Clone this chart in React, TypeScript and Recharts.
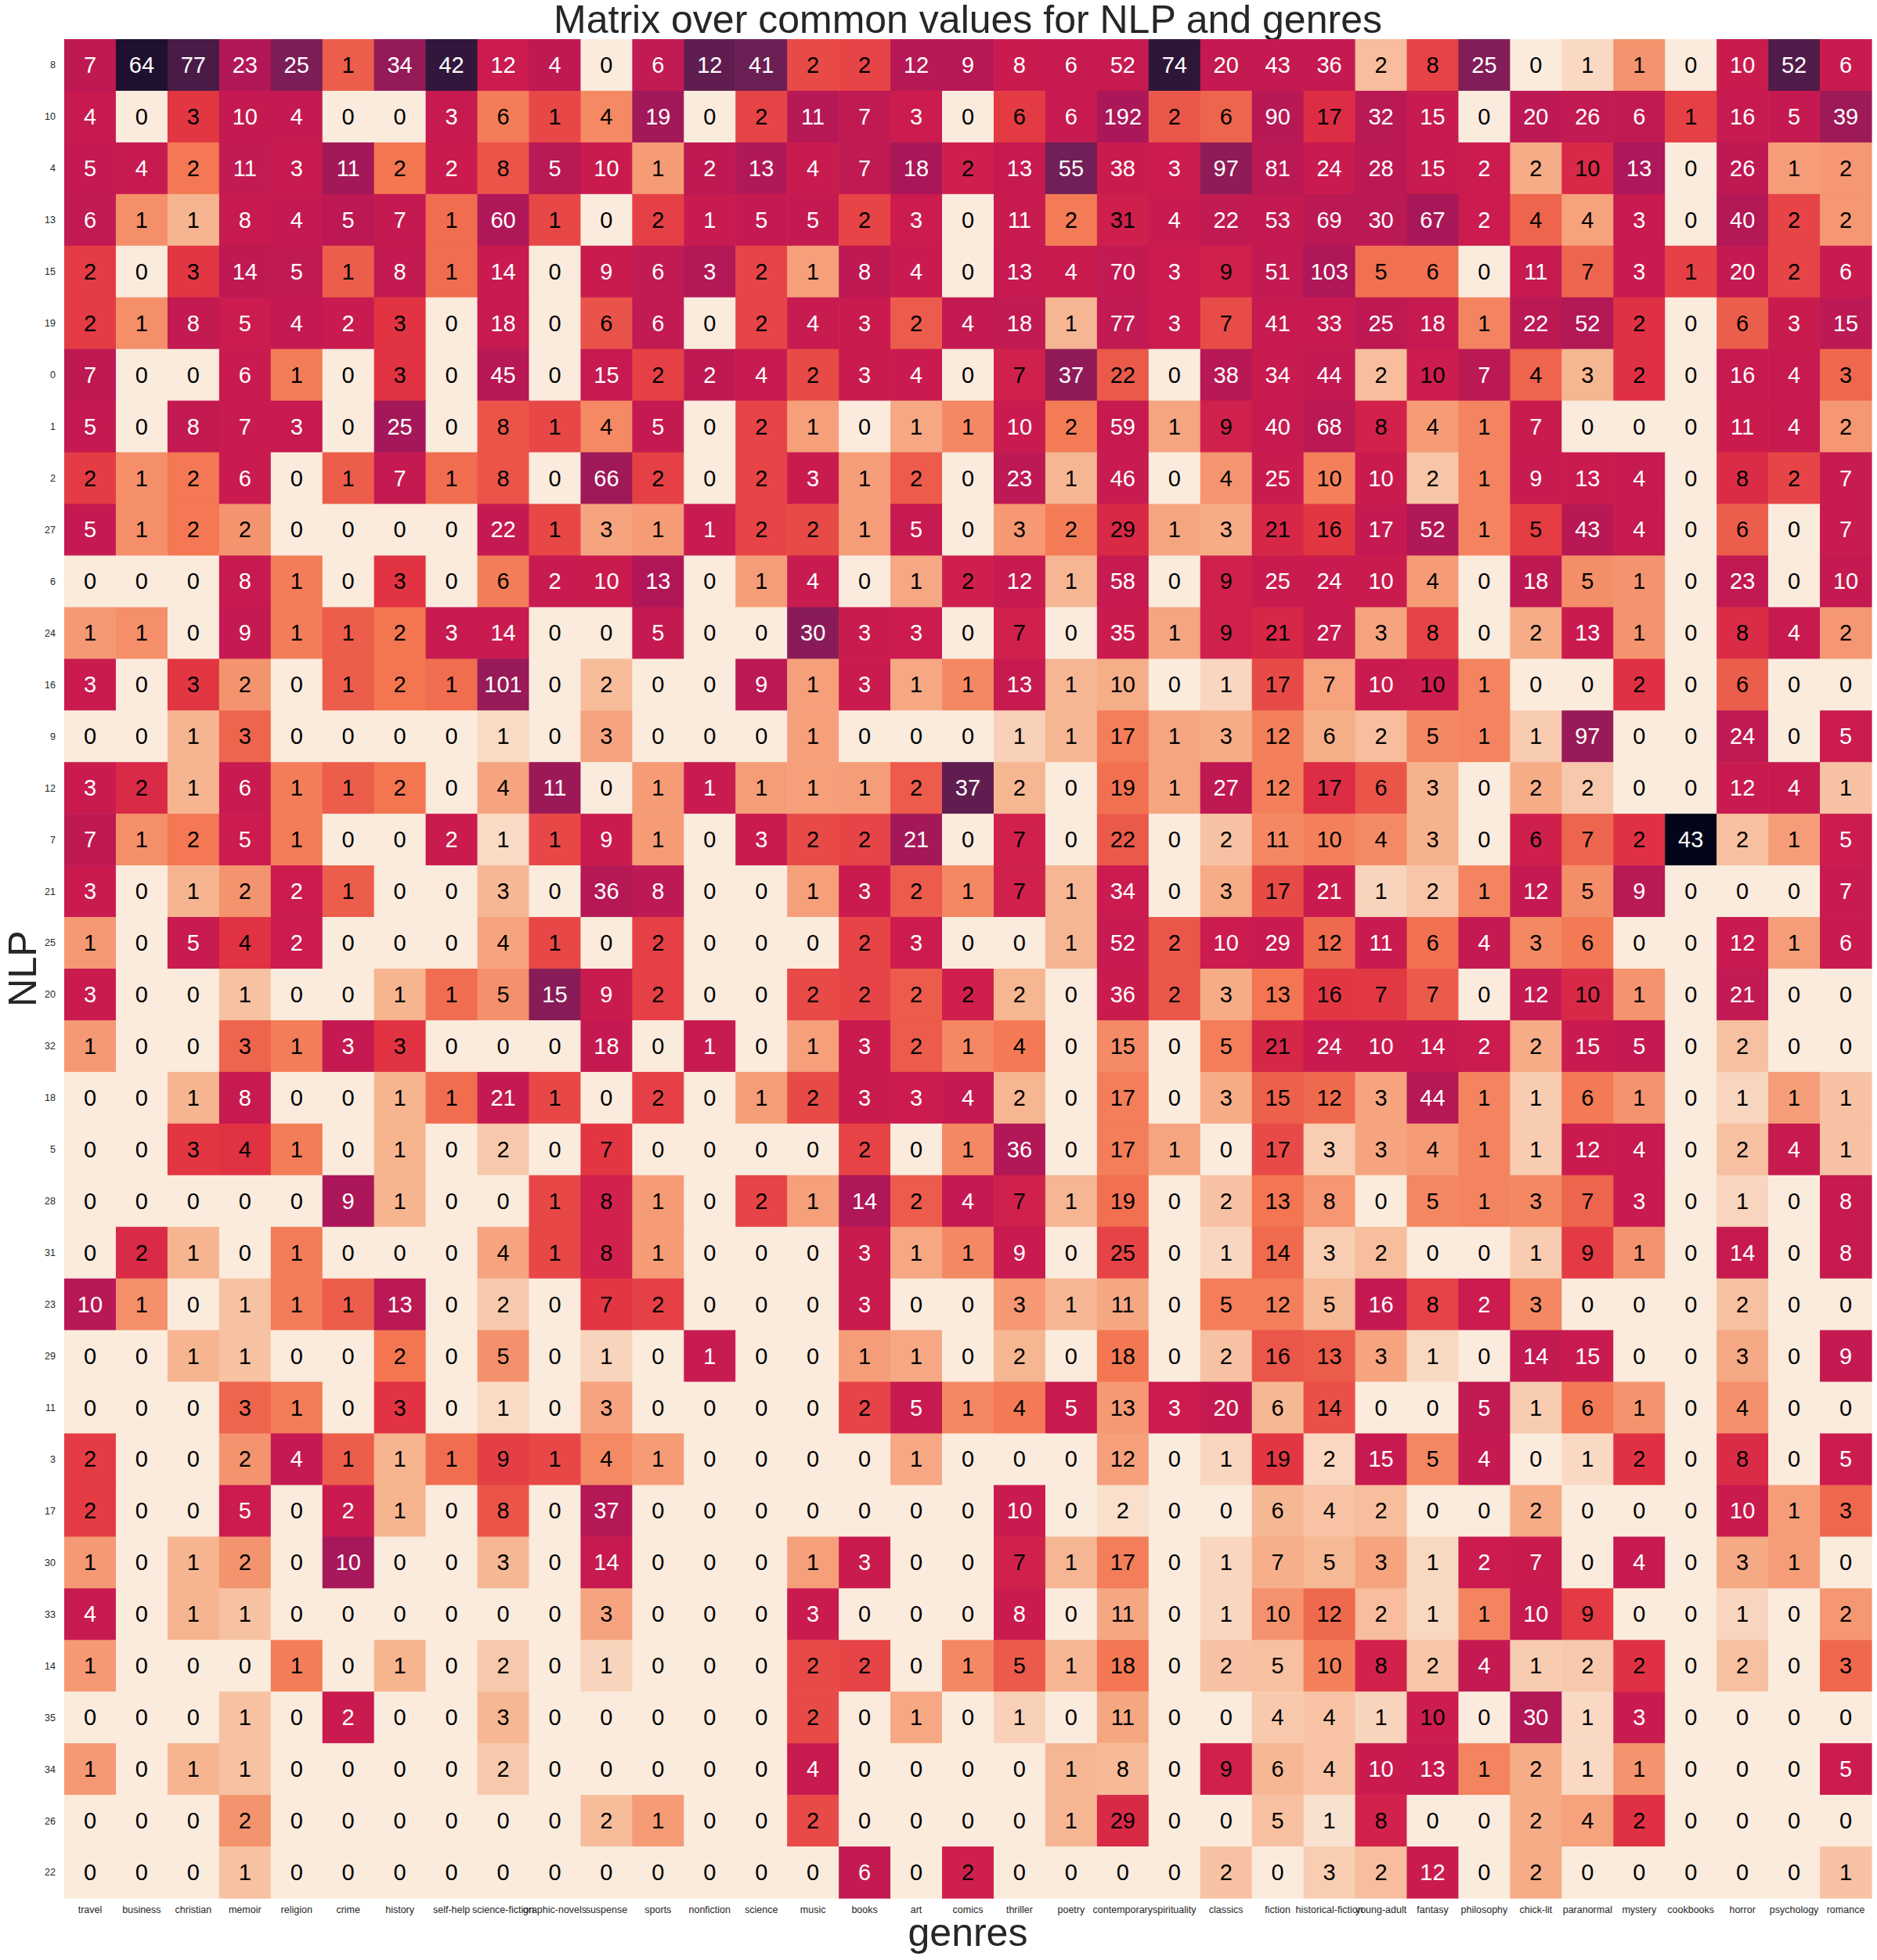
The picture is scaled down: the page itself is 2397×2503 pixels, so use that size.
import React from "react";
import { ScatterChart, Scatter, XAxis, YAxis, Label } from "recharts";

// ---- data ----
const genres = [
  "travel", "business", "christian", "memoir", "religion", "crime", "history",
  "self-help", "science-fiction", "graphic-novels", "suspense", "sports",
  "nonfiction", "science", "music", "books", "art", "comics", "thriller",
  "poetry", "contemporary", "spirituality", "classics", "fiction",
  "historical-fiction", "young-adult", "fantasy", "philosophy", "chick-lit",
  "paranormal", "mystery", "cookbooks", "horror", "psychology", "romance",
];

const nlpLabels = [
  "8", "10", "4", "13", "15", "19", "0", "1", "2", "27", "6", "24", "16", "9",
  "12", "7", "21", "25", "20", "32", "18", "5", "28", "31", "23", "29", "11",
  "3", "17", "30", "33", "14", "35", "34", "26", "22",
];

// counts per NLP cluster, in genre order
const nlp8 = [7, 64, 77, 23, 25, 1, 34, 42, 12, 4, 0, 6, 12, 41, 2, 2, 12, 9, 8, 6, 52, 74, 20, 43, 36, 2, 8, 25, 0, 1, 1, 0, 10, 52, 6];
const nlp10 = [4, 0, 3, 10, 4, 0, 0, 3, 6, 1, 4, 19, 0, 2, 11, 7, 3, 0, 6, 6, 192, 2, 6, 90, 17, 32, 15, 0, 20, 26, 6, 1, 16, 5, 39];
const nlp4 = [5, 4, 2, 11, 3, 11, 2, 2, 8, 5, 10, 1, 2, 13, 4, 7, 18, 2, 13, 55, 38, 3, 97, 81, 24, 28, 15, 2, 2, 10, 13, 0, 26, 1, 2];
const nlp13 = [6, 1, 1, 8, 4, 5, 7, 1, 60, 1, 0, 2, 1, 5, 5, 2, 3, 0, 11, 2, 31, 4, 22, 53, 69, 30, 67, 2, 4, 4, 3, 0, 40, 2, 2];
const nlp15 = [2, 0, 3, 14, 5, 1, 8, 1, 14, 0, 9, 6, 3, 2, 1, 8, 4, 0, 13, 4, 70, 3, 9, 51, 103, 5, 6, 0, 11, 7, 3, 1, 20, 2, 6];
const nlp19 = [2, 1, 8, 5, 4, 2, 3, 0, 18, 0, 6, 6, 0, 2, 4, 3, 2, 4, 18, 1, 77, 3, 7, 41, 33, 25, 18, 1, 22, 52, 2, 0, 6, 3, 15];
const nlp0 = [7, 0, 0, 6, 1, 0, 3, 0, 45, 0, 15, 2, 2, 4, 2, 3, 4, 0, 7, 37, 22, 0, 38, 34, 44, 2, 10, 7, 4, 3, 2, 0, 16, 4, 3];
const nlp1 = [5, 0, 8, 7, 3, 0, 25, 0, 8, 1, 4, 5, 0, 2, 1, 0, 1, 1, 10, 2, 59, 1, 9, 40, 68, 8, 4, 1, 7, 0, 0, 0, 11, 4, 2];
const nlp2 = [2, 1, 2, 6, 0, 1, 7, 1, 8, 0, 66, 2, 0, 2, 3, 1, 2, 0, 23, 1, 46, 0, 4, 25, 10, 10, 2, 1, 9, 13, 4, 0, 8, 2, 7];
const nlp27 = [5, 1, 2, 2, 0, 0, 0, 0, 22, 1, 3, 1, 1, 2, 2, 1, 5, 0, 3, 2, 29, 1, 3, 21, 16, 17, 52, 1, 5, 43, 4, 0, 6, 0, 7];
const nlp6 = [0, 0, 0, 8, 1, 0, 3, 0, 6, 2, 10, 13, 0, 1, 4, 0, 1, 2, 12, 1, 58, 0, 9, 25, 24, 10, 4, 0, 18, 5, 1, 0, 23, 0, 10];
const nlp24 = [1, 1, 0, 9, 1, 1, 2, 3, 14, 0, 0, 5, 0, 0, 30, 3, 3, 0, 7, 0, 35, 1, 9, 21, 27, 3, 8, 0, 2, 13, 1, 0, 8, 4, 2];
const nlp16 = [3, 0, 3, 2, 0, 1, 2, 1, 101, 0, 2, 0, 0, 9, 1, 3, 1, 1, 13, 1, 10, 0, 1, 17, 7, 10, 10, 1, 0, 0, 2, 0, 6, 0, 0];
const nlp9 = [0, 0, 1, 3, 0, 0, 0, 0, 1, 0, 3, 0, 0, 0, 1, 0, 0, 0, 1, 1, 17, 1, 3, 12, 6, 2, 5, 1, 1, 97, 0, 0, 24, 0, 5];
const nlp12 = [3, 2, 1, 6, 1, 1, 2, 0, 4, 11, 0, 1, 1, 1, 1, 1, 2, 37, 2, 0, 19, 1, 27, 12, 17, 6, 3, 0, 2, 2, 0, 0, 12, 4, 1];
const nlp7 = [7, 1, 2, 5, 1, 0, 0, 2, 1, 1, 9, 1, 0, 3, 2, 2, 21, 0, 7, 0, 22, 0, 2, 11, 10, 4, 3, 0, 6, 7, 2, 43, 2, 1, 5];
const nlp21 = [3, 0, 1, 2, 2, 1, 0, 0, 3, 0, 36, 8, 0, 0, 1, 3, 2, 1, 7, 1, 34, 0, 3, 17, 21, 1, 2, 1, 12, 5, 9, 0, 0, 0, 7];
const nlp25 = [1, 0, 5, 4, 2, 0, 0, 0, 4, 1, 0, 2, 0, 0, 0, 2, 3, 0, 0, 1, 52, 2, 10, 29, 12, 11, 6, 4, 3, 6, 0, 0, 12, 1, 6];
const nlp20 = [3, 0, 0, 1, 0, 0, 1, 1, 5, 15, 9, 2, 0, 0, 2, 2, 2, 2, 2, 0, 36, 2, 3, 13, 16, 7, 7, 0, 12, 10, 1, 0, 21, 0, 0];
const nlp32 = [1, 0, 0, 3, 1, 3, 3, 0, 0, 0, 18, 0, 1, 0, 1, 3, 2, 1, 4, 0, 15, 0, 5, 21, 24, 10, 14, 2, 2, 15, 5, 0, 2, 0, 0];
const nlp18 = [0, 0, 1, 8, 0, 0, 1, 1, 21, 1, 0, 2, 0, 1, 2, 3, 3, 4, 2, 0, 17, 0, 3, 15, 12, 3, 44, 1, 1, 6, 1, 0, 1, 1, 1];
const nlp5 = [0, 0, 3, 4, 1, 0, 1, 0, 2, 0, 7, 0, 0, 0, 0, 2, 0, 1, 36, 0, 17, 1, 0, 17, 3, 3, 4, 1, 1, 12, 4, 0, 2, 4, 1];
const nlp28 = [0, 0, 0, 0, 0, 9, 1, 0, 0, 1, 8, 1, 0, 2, 1, 14, 2, 4, 7, 1, 19, 0, 2, 13, 8, 0, 5, 1, 3, 7, 3, 0, 1, 0, 8];
const nlp31 = [0, 2, 1, 0, 1, 0, 0, 0, 4, 1, 8, 1, 0, 0, 0, 3, 1, 1, 9, 0, 25, 0, 1, 14, 3, 2, 0, 0, 1, 9, 1, 0, 14, 0, 8];
const nlp23 = [10, 1, 0, 1, 1, 1, 13, 0, 2, 0, 7, 2, 0, 0, 0, 3, 0, 0, 3, 1, 11, 0, 5, 12, 5, 16, 8, 2, 3, 0, 0, 0, 2, 0, 0];
const nlp29 = [0, 0, 1, 1, 0, 0, 2, 0, 5, 0, 1, 0, 1, 0, 0, 1, 1, 0, 2, 0, 18, 0, 2, 16, 13, 3, 1, 0, 14, 15, 0, 0, 3, 0, 9];
const nlp11 = [0, 0, 0, 3, 1, 0, 3, 0, 1, 0, 3, 0, 0, 0, 0, 2, 5, 1, 4, 5, 13, 3, 20, 6, 14, 0, 0, 5, 1, 6, 1, 0, 4, 0, 0];
const nlp3 = [2, 0, 0, 2, 4, 1, 1, 1, 9, 1, 4, 1, 0, 0, 0, 0, 1, 0, 0, 0, 12, 0, 1, 19, 2, 15, 5, 4, 0, 1, 2, 0, 8, 0, 5];
const nlp17 = [2, 0, 0, 5, 0, 2, 1, 0, 8, 0, 37, 0, 0, 0, 0, 0, 0, 0, 10, 0, 2, 0, 0, 6, 4, 2, 0, 0, 2, 0, 0, 0, 10, 1, 3];
const nlp30 = [1, 0, 1, 2, 0, 10, 0, 0, 3, 0, 14, 0, 0, 0, 1, 3, 0, 0, 7, 1, 17, 0, 1, 7, 5, 3, 1, 2, 7, 0, 4, 0, 3, 1, 0];
const nlp33 = [4, 0, 1, 1, 0, 0, 0, 0, 0, 0, 3, 0, 0, 0, 3, 0, 0, 0, 8, 0, 11, 0, 1, 10, 12, 2, 1, 1, 10, 9, 0, 0, 1, 0, 2];
const nlp14 = [1, 0, 0, 0, 1, 0, 1, 0, 2, 0, 1, 0, 0, 0, 2, 2, 0, 1, 5, 1, 18, 0, 2, 5, 10, 8, 2, 4, 1, 2, 2, 0, 2, 0, 3];
const nlp35 = [0, 0, 0, 1, 0, 2, 0, 0, 3, 0, 0, 0, 0, 0, 2, 0, 1, 0, 1, 0, 11, 0, 0, 4, 4, 1, 10, 0, 30, 1, 3, 0, 0, 0, 0];
const nlp34 = [1, 0, 1, 1, 0, 0, 0, 0, 2, 0, 0, 0, 0, 0, 4, 0, 0, 0, 0, 1, 8, 0, 9, 6, 4, 10, 13, 1, 2, 1, 1, 0, 0, 0, 5];
const nlp26 = [0, 0, 0, 2, 0, 0, 0, 0, 0, 0, 2, 1, 0, 0, 2, 0, 0, 0, 0, 1, 29, 0, 0, 5, 1, 8, 0, 0, 2, 4, 2, 0, 0, 0, 0];
const nlp22 = [0, 0, 0, 1, 0, 0, 0, 0, 0, 0, 0, 0, 0, 0, 0, 6, 0, 2, 0, 0, 0, 0, 2, 0, 3, 2, 12, 0, 2, 0, 0, 0, 0, 0, 1];

const counts = [
  nlp8, nlp10, nlp4, nlp13, nlp15, nlp19, nlp0, nlp1, nlp2, nlp27, nlp6, nlp24,
  nlp16, nlp9, nlp12, nlp7, nlp21, nlp25, nlp20, nlp32, nlp18, nlp5, nlp28,
  nlp31, nlp23, nlp29, nlp11, nlp3, nlp17, nlp30, nlp33, nlp14, nlp35, nlp34,
  nlp26, nlp22,
];

// ---- colour: share of each genre column, two-slope norm centred on the mean, rocket_r ----
const ROCKET: [number, string][] = [
  [0, "#03051A"], [1 / 7, "#35193E"], [2 / 7, "#701F57"], [3 / 7, "#AD1759"],
  [0.5, "#CB1B4F"], [4 / 7, "#E13342"], [5 / 7, "#F37651"], [6 / 7, "#F6B48F"],
  [1, "#FAEBDD"],
];

const hex = (h: string) => [1, 3, 5].map((i) => parseInt(h.slice(i, i + 2), 16));

function rocket(t: number) {
  t = Math.min(Math.max(t, 0), 1);
  let i = 0;
  while (i < ROCKET.length - 2 && t > ROCKET[i + 1][0]) i++;
  const [t0, c0] = ROCKET[i];
  const [t1, c1] = ROCKET[i + 1];
  const f = (t - t0) / (t1 - t0);
  const a = hex(c0), b = hex(c1);
  const rgb = a.map((v, k) => Math.round(v + (b[k] - v) * f));
  return `rgb(${rgb[0]},${rgb[1]},${rgb[2]})`;
}

const colSums = genres.map((_, c) => counts.reduce((s, row) => s + row[c], 0));
const shares = counts.map((row) => row.map((v, c) => (colSums[c] ? v / colSums[c] : 0)));
const allShares = shares.flat();
const vcenter = allShares.reduce((s, v) => s + v, 0) / allShares.length;
const vmax = Math.max(...allShares);

const norm = (p: number) =>
  p <= vcenter ? (0.5 * p) / vcenter : 0.5 + (0.5 * (p - vcenter)) / (vmax - vcenter);

const cells = counts.flatMap((row, r) =>
  row.map((v, c) => {
    const s = norm(shares[r][c]);
    return {
      x: c + 0.5,
      y: r + 0.5,
      count: v,
      fill: rocket(1 - s),
      textColor: s > 0.5 ? "#ffffff" : "#000000",
    };
  })
);

// ---- layout ----
const W = 2397;
const H = 2503;
const PLOT_LEFT = 82;
const PLOT_TOP = 50;
const PLOT_RIGHT = 2390;
const PLOT_BOTTOM = 2424;
const CELL_W = (PLOT_RIGHT - PLOT_LEFT) / genres.length;
const CELL_H = (PLOT_BOTTOM - PLOT_TOP) / nlpLabels.length;
const FONT = "'Liberation Sans', Arial, Helvetica, sans-serif";

const HeatCell = (props: any) => {
  const { cx, cy, payload } = props;
  return (
    <g>
      <rect
        x={cx - CELL_W / 2}
        y={cy - CELL_H / 2}
        width={CELL_W + 0.6}
        height={CELL_H + 0.6}
        fill={payload.fill}
      />
      <text
        x={cx}
        y={cy}
        textAnchor="middle"
        dominantBaseline="central"
        fontSize={29}
        fontFamily={FONT}
        fill={payload.textColor}
      >
        {payload.count}
      </text>
    </g>
  );
};

export default function App() {
  return (
    <div style={{ position: "absolute", left: 0, top: 0, width: W, height: H, background: "#fff", fontFamily: FONT }}>
      <div
        style={{
          position: "absolute",
          left: PLOT_LEFT,
          width: PLOT_RIGHT - PLOT_LEFT,
          top: 0,
          textAlign: "center",
          fontSize: 50,
          lineHeight: "50px",
          color: "#262626",
        }}
      >
        Matrix over common values for NLP and genres
      </div>
      <ScatterChart
        width={W}
        height={H}
        margin={{ top: PLOT_TOP, right: W - PLOT_RIGHT, bottom: 0, left: 0 }}
      >
        <XAxis
          type="number"
          dataKey="x"
          domain={[0, genres.length]}
          ticks={genres.map((_, i) => i + 0.5)}
          tickFormatter={(v: number) => genres[Math.floor(v)]}
          interval={0}
          height={H - PLOT_BOTTOM}
          axisLine={false}
          tickLine={false}
          tickMargin={4}
          tick={{ fontSize: 12.5, fill: "#262626", fontFamily: FONT }}
        >
          <Label
            content={({ viewBox }: any) => (
              <text
                x={viewBox.x + viewBox.width / 2}
                y={2485}
                textAnchor="middle"
                fontSize={50}
                fontFamily={FONT}
                fill="#262626"
              >
                genres
              </text>
            )}
          />
        </XAxis>
        <YAxis
          type="number"
          dataKey="y"
          reversed
          domain={[0, nlpLabels.length]}
          ticks={nlpLabels.map((_, i) => i + 0.5)}
          tickFormatter={(v: number) => nlpLabels[Math.floor(v)]}
          interval={0}
          width={PLOT_LEFT}
          axisLine={false}
          tickLine={false}
          tickMargin={5}
          tick={{ fontSize: 12.5, fill: "#262626", fontFamily: FONT }}
        >
          <Label
            content={({ viewBox }: any) => {
              const cy = viewBox.y + viewBox.height / 2;
              return (
                <text
                  x={46}
                  y={cy}
                  transform={`rotate(-90 46 ${cy})`}
                  textAnchor="middle"
                  fontSize={50}
                  fontFamily={FONT}
                  fill="#262626"
                >
                  NLP
                </text>
              );
            }}
          />
        </YAxis>
        <Scatter data={cells} shape={HeatCell} isAnimationActive={false} />
      </ScatterChart>
    </div>
  );
}
